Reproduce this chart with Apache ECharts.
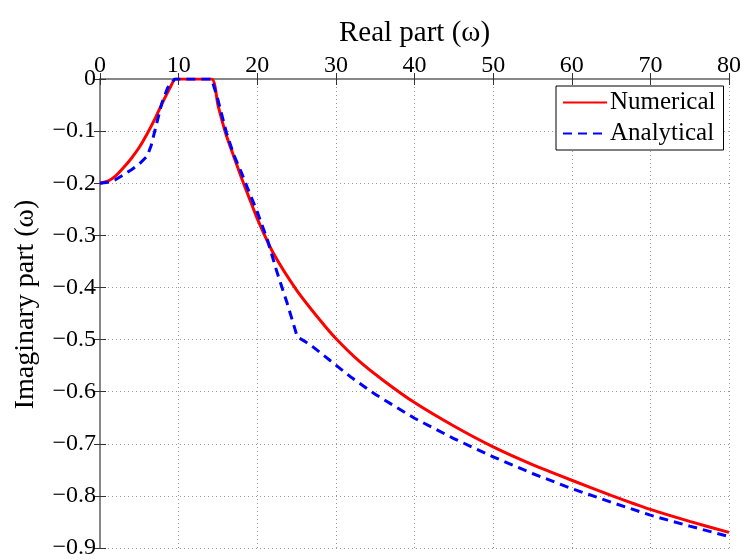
<!DOCTYPE html>
<html>
<head>
<meta charset="utf-8">
<script src="https://cdn.jsdelivr.net/npm/echarts@6/dist/echarts.min.js"></script>
<style>html,body{margin:0;padding:0;background:#fff;}#c{width:747px;height:560px;}</style>
</head>
<body>
<div id="c"></div>
<script>
const xTicks = [0, 10, 20, 30, 40, 50, 60, 70, 80];
const yTicks = [0, -0.1, -0.2, -0.3, -0.4, -0.5, -0.6, -0.7, -0.8, -0.9];

const numX = [0, 1, 2, 3, 4, 5, 6, 7, 8, 9, 9.6, 14.2, 15, 16, 17, 18, 19, 20, 22, 25, 28, 30, 33, 36, 40, 45, 50, 55, 60, 65, 70, 75, 80];
const numY = [-0.2, -0.196, -0.186, -0.170, -0.152, -0.131, -0.105, -0.076, -0.044, -0.014, 0, 0, -0.05, -0.105, -0.148, -0.19, -0.229, -0.268, -0.333, -0.405, -0.463, -0.498, -0.542, -0.578, -0.621, -0.666, -0.706, -0.740, -0.770, -0.799, -0.826, -0.849, -0.870];

const anaX = [0, 1, 2, 3, 4, 5, 6, 6.5, 7, 7.85, 8.6, 9.5, 14.2, 15, 16.1, 17, 18, 18.7, 20, 21.3, 22.5, 23.8, 25.1, 26, 27, 28, 30, 32, 35, 40, 45, 50, 55, 60, 65, 70, 75, 80];
const anaY = [-0.2, -0.198, -0.193, -0.184, -0.174, -0.163, -0.148, -0.128, -0.098, -0.047, -0.017, 0, 0, -0.04, -0.104, -0.145, -0.18, -0.207, -0.255, -0.309, -0.37, -0.43, -0.495, -0.503, -0.513, -0.525, -0.549, -0.573, -0.605, -0.651, -0.690, -0.725, -0.757, -0.786, -0.812, -0.837, -0.858, -0.878];

const FONT = '"Liberation Serif", "Times New Roman", serif';
const chart = echarts.init(document.getElementById('c'));
const grey = '#808080';
const grid = { type: [1, 3], color: '#9a9a9a', width: 1 };
const fmtY = v => (Math.abs(v) < 1e-9 ? '0' : '\u2212' + Math.abs(v).toFixed(1));

chart.setOption({
  animation: false,
  backgroundColor: '#fff',
  grid: { left: 100, right: 18, top: 79, bottom: 12, containLabel: false },
  legend: {
    orient: 'vertical',
    left: 556, top: 86,
    backgroundColor: '#fff',
    borderColor: '#000', borderWidth: 1,
    padding: [4, 8, 4, 6],
    itemWidth: 44, itemHeight: 14, itemGap: 6,
    itemStyle: { opacity: 0 },
    textStyle: { fontFamily: FONT, fontSize: 25, color: '#000', padding: [0, 0, 0, -2] },
    data: ['Numerical', 'Analytical']
  },
  xAxis: [{
    type: 'value', position: 'top', min: 0, max: 80, interval: 10,
    name: 'Real part (\u03c9)', nameLocation: 'middle', nameGap: 31,
    nameTextStyle: { fontFamily: FONT, fontSize: 29, color: '#000' },
    axisLine: { show: true, lineStyle: { color: grey, width: 1.5 } },
    axisTick: { show: true, inside: true, length: 6, lineStyle: { color: '#333' } },
    axisLabel: { fontFamily: FONT, fontSize: 24, color: '#000', margin: 1 },
    splitLine: { show: true, lineStyle: grid }
  }, {
    type: 'value', position: 'bottom', min: 0, max: 80, interval: 10,
    axisLine: { show: true, lineStyle: { color: grey, width: 1.5 } },
    axisTick: { show: true, inside: true, length: 6, lineStyle: { color: '#333' } },
    axisLabel: { show: false }, splitLine: { show: false }
  }],
  yAxis: [{
    type: 'value', position: 'left', min: -0.9, max: 0, interval: 0.1,
    name: 'Imaginary part (\u03c9)', nameLocation: 'middle', nameGap: 60,
    nameTextStyle: { fontFamily: FONT, fontSize: 28, color: '#000', padding: [0, 0, 0, 18] },
    axisLine: { show: true, lineStyle: { color: grey, width: 1.5 } },
    axisTick: { show: true, inside: true, length: 6, lineStyle: { color: '#333' } },
    axisLabel: { fontFamily: FONT, fontSize: 24, color: '#000', margin: 4, formatter: fmtY },
    splitLine: { show: true, lineStyle: grid }
  }, {
    type: 'value', position: 'right', min: -0.9, max: 0, interval: 0.1,
    axisLine: { show: true, lineStyle: { color: grey, width: 1.5 } },
    axisTick: { show: true, inside: true, length: 6, lineStyle: { color: '#333' } },
    axisLabel: { show: false }, splitLine: { show: false }
  }],
  series: [{
    name: 'Numerical', type: 'line', xAxisIndex: 0, yAxisIndex: 0,
    symbol: 'none', smooth: 0.2, color: '#ff0000',
    lineStyle: { color: '#ff0000', width: 3 },
    data: numX.map((x, i) => [x, numY[i]]),
    z: 3
  }, {
    name: 'Analytical', type: 'line', xAxisIndex: 0, yAxisIndex: 0,
    symbol: 'none', smooth: false, color: '#0000ff',
    lineStyle: { color: '#0000ff', width: 3, type: [9, 6] },
    data: anaX.map((x, i) => [x, anaY[i]]),
    z: 4
  }]
});
</script>
</body>
</html>
